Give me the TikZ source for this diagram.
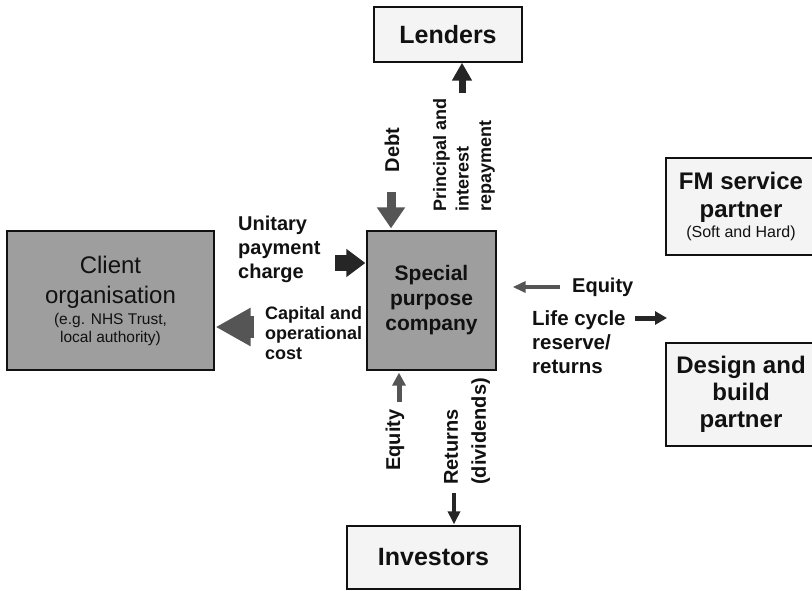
\documentclass[tikz,border=0pt]{standalone}
\usepackage{fontspec}
\setmainfont{Liberation Sans}
\usetikzlibrary{arrows.meta}
\definecolor{boxgray}{HTML}{9E9E9E}
\definecolor{paper}{HTML}{F4F4F4}
\definecolor{darkflow}{HTML}{262626}
\definecolor{midflow}{HTML}{555555}
\definecolor{ink}{HTML}{111111}
\newcommand\fsz[2]{\fontsize{#1}{#2}\selectfont}

\begin{document}
\begin{tikzpicture}[x=1pt,y=-1pt,
  party/.style={draw=ink, line width=1.3pt, inner sep=0pt, align=center, text=ink},
  solid party/.style={party, fill=boxgray},
  light party/.style={party, fill=paper},
  lbl/.style={inner sep=0pt, text=ink, font=\bfseries},
  flowarrow/.style n args={4}{draw=#1, line width=#2, -{Triangle[length=#3, width=#4]}}
]
\useasboundingbox (0,0) rectangle (812,590);
\clip (0,0) rectangle (812,590);

% parties
\node[solid party, minimum width=207pt, minimum height=139pt, font=\fsz{24}{30}] (client) at (110.5,300.5)
  {Client\\organisation\\[-9pt]{\fsz{15.5}{18}(e.g. NHS Trust,}\\[-12pt]{\fsz{15.5}{18}local authority)}};
\node[solid party, minimum width=129pt, minimum height=139pt, font=\bfseries\fsz{21}{25}] (spc) at (431.5,300.5)
  {Special\\purpose\\company};
\node[light party, minimum width=148pt, minimum height=55pt, font=\bfseries\fsz{25}{30}] (lenders) at (448,34.5) {Lenders};
\node[light party, minimum width=173pt, minimum height=63pt, font=\bfseries\fsz{25}{30}] (investors) at (433.5,557.5) {Investors};
\node[light party, minimum width=150pt, minimum height=97pt, font=\bfseries\fsz{24}{28}] (fm) at (741,206.5)
  {FM service\\partner\\[-8pt]{\normalfont\fsz{16}{18}(Soft and Hard)}};
\node[light party, minimum width=150pt, minimum height=103pt, font=\bfseries\fsz{24}{27}] (design) at (741,394.5)
  {Design and\\build\\partner};

% free ends of the flows
\coordinate (repTail) at (462,93);
\coordinate (debtTail) at (391,192);
\coordinate (unitTail) at (335,263);
\coordinate (capTail) at (254,327);
\coordinate (eqTail) at (560,287);
\coordinate (lcTail) at (635,318);
\coordinate (lcTip) at (667,318);
\coordinate (eqbTail) at (399,402);
\coordinate (retTail) at (454,493);

% flows
\draw[flowarrow={darkflow}{7pt}{18pt}{19pt}] (repTail) -- (repTail |- lenders.south);
\draw[flowarrow={midflow}{9pt}{21pt}{27pt}, shorten >=2pt] (debtTail) -- (debtTail |- spc.north);
\draw[flowarrow={darkflow}{16pt}{19pt}{27pt}, shorten >=1pt] (unitTail) -- (unitTail -| spc.west);
\draw[flowarrow={midflow}{22pt}{35pt}{36pt}, shorten >=1pt] (capTail) -- (capTail -| client.east);
\draw[flowarrow={midflow}{4pt}{13pt}{11pt}, shorten >=16pt] (eqTail) -- (eqTail -| spc.east);
\draw[flowarrow={darkflow}{5pt}{12pt}{13pt}] (lcTail) -- (lcTip);
\draw[flowarrow={midflow}{5pt}{13pt}{13pt}, shorten >=2pt] (eqbTail) -- (eqbTail |- spc.south);
\draw[flowarrow={darkflow}{4pt}{13pt}{12pt}, shorten >=1pt] (retTail) -- (retTail |- investors.north);

% flow labels
\node[lbl, anchor=west, align=left, font=\bfseries\fsz{20}{24}] (unitLbl) at (238,249) {Unitary\\payment\\charge};
\node[lbl, anchor=west, align=left, font=\bfseries\fsz{18}{20}] (capLbl) at (265,333) {Capital and\\operational\\cost};
\node[lbl, anchor=west, font=\bfseries\fsz{20}{24}] (eqLbl) at (572,287) {Equity};
\node[lbl, anchor=west, align=left, font=\bfseries\fsz{20.5}{24}] (lcLbl) at (532,342) {Life cycle\\reserve/\\returns};
\node[lbl, rotate=90, font=\bfseries\fsz{20}{24}] (debtLbl) at (392,150) {Debt};
\node[lbl, rotate=90, anchor=west, align=left, font=\bfseries\fsz{18}{22.5}] (repLbl) at (464,212) {Principal and\\interest\\repayment};
\node[lbl, rotate=90, font=\bfseries\fsz{20}{24}] (eqbLbl) at (395,440) {Equity};
\node[lbl, rotate=90, anchor=west, align=left, font=\bfseries\fsz{20}{28}] (retLbl) at (467,485) {Returns\\(dividends)};
\end{tikzpicture}
\end{document}
